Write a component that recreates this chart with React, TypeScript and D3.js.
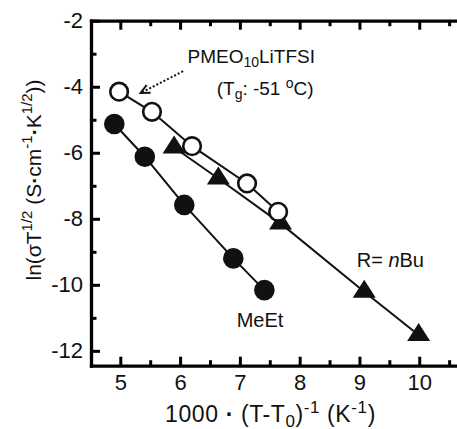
import React, { useRef, useEffect } from "react";
import * as d3 from "d3";

// PMEO10LiTFSI (open circles)
const openX = [4.98, 5.53, 6.2, 7.12, 7.64];
const openY = [-4.15, -4.76, -5.8, -6.93, -7.79];
// MeEt (filled circles)
const meEtX = [4.9, 5.41, 6.07, 6.89, 7.41];
const meEtY = [-5.13, -6.12, -7.58, -9.2, -10.16];
// R = nBu (triangles)
const nBuX = [5.9, 6.64, 7.68, 9.08, 9.99];
const nBuY = [-5.84, -6.78, -8.14, -10.21, -11.52];

const xMajor = [5, 6, 7, 8, 9, 10];
const xMinor = [5.5, 6.5, 7.5, 8.5, 9.5, 10.5];
const yMajor = [-2, -4, -6, -8, -10, -12];
const yMinor = [-3, -5, -7, -9, -11];

const W = 457;
const H = 429;
const FONT = "Liberation Sans, Arial, Helvetica, sans-serif";

const x = d3.scaleLinear().domain([4.51, 10.64]).range([91, 457.5]);
const y = d3.scaleLinear().domain([-12.45, -2]).range([365.7, 20.7]);

const toPts = (xs: number[], ys: number[]) => xs.map((v, i) => [v, ys[i]] as [number, number]);

const App = () => {
  const axRef = useRef<SVGGElement>(null);

  useEffect(() => {
    const g = d3.select(axRef.current);
    g.selectAll("*").remove();
    const x0 = x.range()[0];
    const yTop = y.range()[1];
    const yBot = y.range()[0];

    const style = (sel: any) => {
      sel.select(".domain").attr("stroke-width", 3.3).attr("stroke-linecap", "square");
      sel.selectAll(".tick line").attr("stroke-width", 3);
      sel.selectAll("text").attr("font-family", FONT).attr("font-size", 22).attr("fill", "#111");
    };

    g.append("g")
      .attr("transform", `translate(${x0},0)`)
      .call(d3.axisLeft(y).tickValues(yMinor).tickSizeInner(-5.5).tickSizeOuter(0).tickFormat(() => ""))
      .call((s) => s.select(".domain").remove())
      .call(style);
    g.append("g")
      .attr("transform", `translate(${x0},0)`)
      .call(d3.axisLeft(y).tickValues(yMajor).tickSizeInner(-9).tickSizeOuter(0).tickPadding(8).tickFormat((d) => String(d)))
      .call(style);

    g.append("g")
      .attr("transform", `translate(0,${yBot})`)
      .call(d3.axisBottom(x).tickValues(xMinor).tickSizeInner(-5.5).tickSizeOuter(0).tickFormat(() => ""))
      .call((s) => s.select(".domain").remove())
      .call(style);
    g.append("g")
      .attr("transform", `translate(0,${yBot})`)
      .call(d3.axisBottom(x).tickValues(xMajor).tickSizeInner(-9).tickSizeOuter(0).tickPadding(9).tickFormat((d) => String(d)))
      .call(style);

    g.append("g")
      .attr("transform", `translate(0,${yTop})`)
      .call(d3.axisTop(x).tickValues(xMinor).tickSizeInner(-5.5).tickSizeOuter(0).tickFormat(() => ""))
      .call((s) => s.select(".domain").remove())
      .call(style);
    g.append("g")
      .attr("transform", `translate(0,${yTop})`)
      .call(d3.axisTop(x).tickValues(xMajor).tickSizeInner(-9).tickSizeOuter(0).tickFormat(() => ""))
      .call(style);
  }, []);

  const lineGen = d3.line<[number, number]>().x((d) => x(d[0])).y((d) => y(d[1]));
  const openPts = toPts(openX, openY);
  const meEtPts = toPts(meEtX, meEtY);
  const nBuPts = toPts(nBuX, nBuY);

  const tri = (cx: number, cy: number) => {
    const hw = 11.5;
    const h = 18;
    return `M${cx},${cy - (2 * h) / 3}L${cx + hw},${cy + h / 3}L${cx - hw},${cy + h / 3}Z`;
  };

  // dotted arrow pointing at the PMEO open circles
  const a0 = [x(6.05), y(-3.53)];
  const a1 = [x(5.34), y(-4.19)];
  const ang = Math.atan2(a0[1] - a1[1], a0[0] - a1[0]);
  const wing = (s: number) => [a1[0] + 10 * Math.cos(ang + s * 0.45), a1[1] + 10 * Math.sin(ang + s * 0.45)];
  const w1 = wing(1);
  const w2 = wing(-1);

  return (
    <svg width={W} height={H} style={{ position: "absolute", left: 0, top: 0, background: "#fff" }} fontFamily={FONT}>
      <g ref={axRef} />

      <path d={lineGen(meEtPts) || ""} fill="none" stroke="#111" strokeWidth={2} />
      <path d={lineGen(nBuPts) || ""} fill="none" stroke="#111" strokeWidth={2} />
      <path d={lineGen(openPts) || ""} fill="none" stroke="#111" strokeWidth={2} />

      {meEtPts.map((d, i) => (
        <circle key={"m" + i} cx={x(d[0])} cy={y(d[1])} r={10.3} fill="#111" />
      ))}
      {nBuPts.map((d, i) => (
        <path key={"t" + i} d={tri(x(d[0]), y(d[1]))} fill="#111" />
      ))}
      {openPts.map((d, i) => (
        <circle key={"o" + i} cx={x(d[0])} cy={y(d[1])} r={8.8} fill="#fff" stroke="#111" strokeWidth={2.6} />
      ))}

      <line x1={a0[0]} y1={a0[1]} x2={a1[0]} y2={a1[1]} stroke="#111" strokeWidth={2} strokeDasharray="2,2" />
      <path d={`M${w1[0]},${w1[1]}L${a1[0]},${a1[1]}L${w2[0]},${w2[1]}`} fill="none" stroke="#111" strokeWidth={2} />

      <text x={187.5} y={63} fontSize={19} fill="#111">
        PMEO<tspan dy={4} fontSize={14}>10</tspan>
        <tspan dy={-4}>LiTFSI</tspan>
      </text>
      <text x={216.7} y={95} fontSize={19} fill="#111">
        (T<tspan dy={4} fontSize={14}>g</tspan>
        <tspan dy={-4}>: -51 </tspan>
        <tspan dy={-7} fontSize={14}>o</tspan>
        <tspan dy={7}>C)</tspan>
      </text>
      <text x={356.7} y={266.7} fontSize={20} fill="#111">
        R= <tspan fontStyle="italic">n</tspan>Bu
      </text>
      <text x={236.7} y={326.7} fontSize={20} fill="#111">
        MeEt
      </text>

      <text x={270.5} y={421.5} fontSize={23} textAnchor="middle" fill="#111" letterSpacing={0.6}>
        1000<tspan fontWeight="bold"> · </tspan>(T-T<tspan dy={5} fontSize={17}>0</tspan>
        <tspan dy={-5}>)</tspan>
        <tspan dy={-9} fontSize={17}>-1</tspan>
        <tspan dy={9}> (K</tspan>
        <tspan dy={-9} fontSize={17}>-1</tspan>
        <tspan dy={9}>)</tspan>
      </text>
      <text transform="translate(41,180) rotate(-90)" fontSize={21} textAnchor="middle" fill="#111">
        ln(σT<tspan dy={-9} fontSize={15}>1/2</tspan>
        <tspan dy={9}> (S</tspan>
        <tspan fontWeight="bold">·</tspan>cm<tspan dy={-9} fontSize={15}>-1</tspan>
        <tspan dy={9} fontWeight="bold">·</tspan>K<tspan dy={-9} fontSize={15}>1/2</tspan>
        <tspan dy={9}>))</tspan>
      </text>
    </svg>
  );
};

export default App;
